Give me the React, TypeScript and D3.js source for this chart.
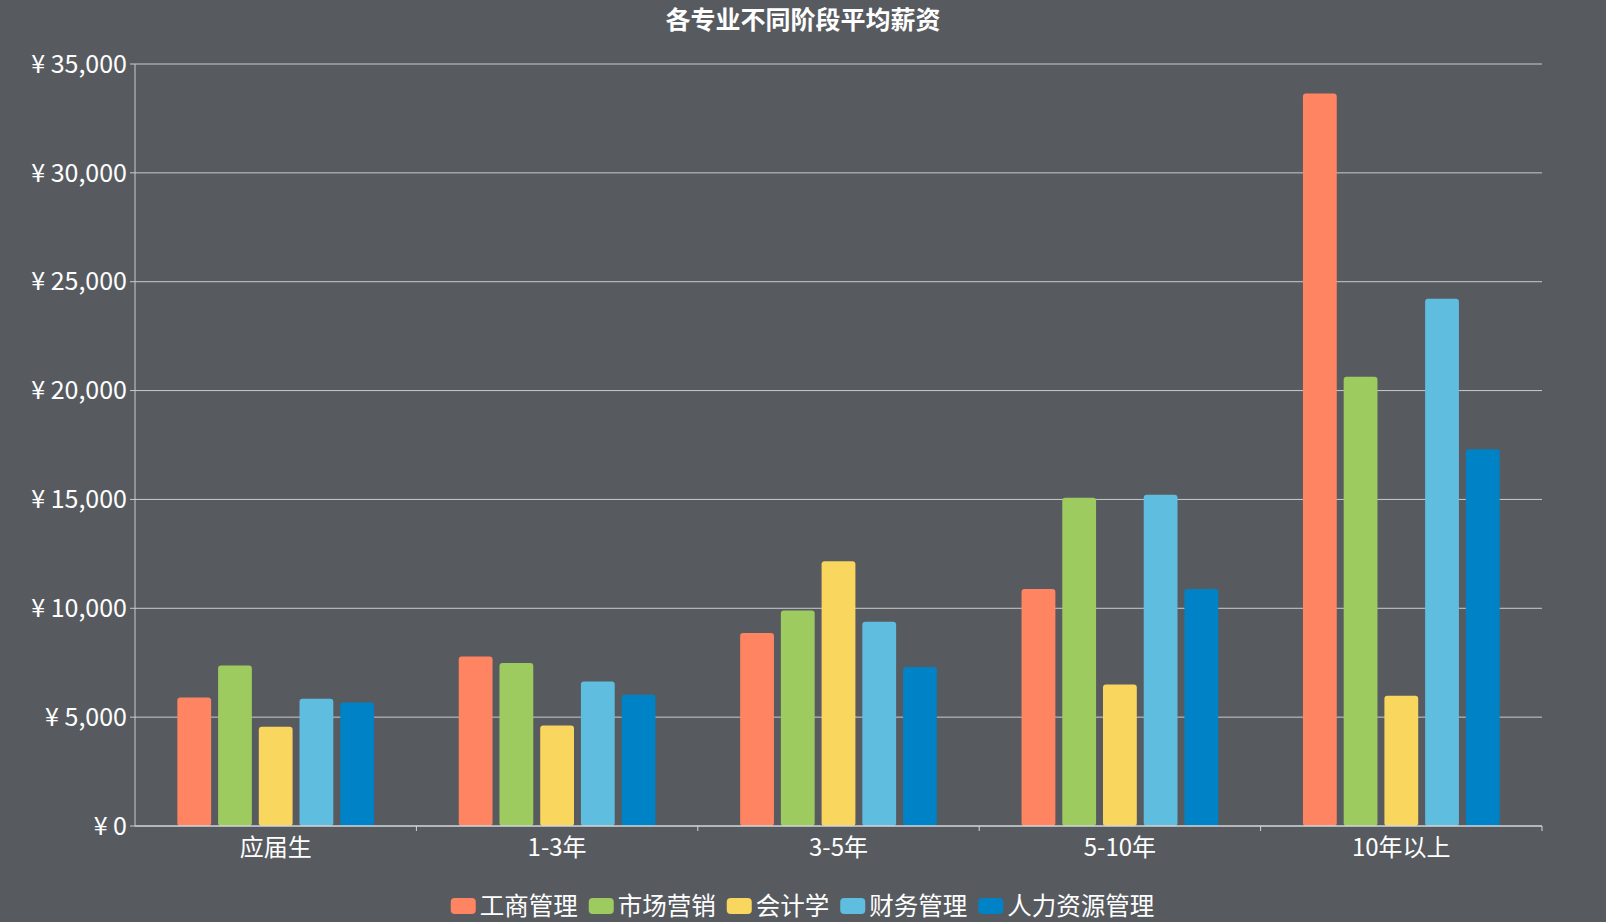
import React, { useEffect } from 'react';
import * as d3 from 'd3';

const categories = ['应届生', '1-3年', '3-5年', '5-10年', '10年以上'];
const seriesNames = ['工商管理', '市场营销', '会计学', '财务管理', '人力资源管理'];
const colors = ['#ff8562', '#9dcb5f', '#f9d65e', '#5fbde0', '#0082c6'];

// one array per major, values follow categories
const business = [5900, 7780, 8860, 10890, 33640];
const marketing = [7370, 7490, 9900, 15080, 20640];
const accounting = [4560, 4620, 12160, 6500, 5980];
const finance = [5850, 6640, 9380, 15220, 24220];
const hr = [5670, 6030, 7300, 10890, 17300];
const seriesValues = [business, marketing, accounting, finance, hr];

const yTicks = [0, 5000, 10000, 15000, 20000, 25000, 30000, 35000];

const W = 1606;
const H = 922;
const FONT = '"Noto Sans CJK SC", "Noto Sans", sans-serif';

export default function App() {
  useEffect(() => {
    document.body.style.margin = '0';
  }, []);

  const margin = { top: 64, right: 64, bottom: 96, left: 135 };
  const x = d3.scaleBand<string>()
    .domain(categories)
    .range([margin.left, W - margin.right]);
  const inner = d3.scaleBand<string>()
    .domain(seriesNames)
    .range([0, x.bandwidth()])
    .paddingInner(0.17)
    .paddingOuter(1.04);
  const y = d3.scaleLinear()
    .domain([0, 35000])
    .range([H - margin.bottom, margin.top]);

  const fmt = d3.format(',');
  const baseY = y(0);

  // legend layout
  const legendFont = 24.5;
  const swW = 25;
  const itemWidths = seriesNames.map(n => swW + 5 + n.length * legendFont + 10);
  const totalW = d3.sum(itemWidths) - 10;
  let cursor = (W - totalW) / 2;
  const legendX = itemWidths.map(w => {
    const v = cursor;
    cursor += w;
    return v;
  });

  return (
    <svg width={W} height={H} style={{ display: 'block', background: '#575b60', fontFamily: FONT }}>
      <rect x={0} y={0} width={W} height={H} fill="#575b60" />
      <text x={W / 2} y={20} dy="0.35em" textAnchor="middle" fill="#fff" fontSize={25} fontWeight="bold">
        各专业不同阶段平均薪资
      </text>

      {/* grid + y axis */}
      {yTicks.map(t => (
        <g key={t}>
          {t > 0 && (
            <line x1={margin.left} x2={W - margin.right} y1={y(t)} y2={y(t)} stroke="#c9cbcd" strokeWidth={1} />
          )}
          <line x1={margin.left - 5} x2={margin.left} y1={y(t)} y2={y(t)} stroke="#c9cbcd" strokeWidth={1} />
          <text x={margin.left - 8} y={y(t)} dy="0.35em" textAnchor="end" fill="#fff" fontSize={25}>
            {'¥ ' + fmt(t)}
          </text>
        </g>
      ))}
      <line x1={margin.left} x2={margin.left} y1={margin.top} y2={baseY} stroke="#c9cbcd" strokeWidth={1} />

      {/* bars */}
      {categories.map((c, ci) => (
        <g key={c} transform={`translate(${x(c)},0)`}>
          {seriesNames.map((s, si) => {
            const v = seriesValues[si][ci];
            return (
              <rect
                key={s}
                x={inner(s)}
                y={y(v)}
                width={inner.bandwidth()}
                height={baseY - y(v)}
                rx={3}
                fill={colors[si]}
              />
            );
          })}
        </g>
      ))}

      {/* x axis */}
      <line x1={margin.left} x2={W - margin.right} y1={baseY} y2={baseY} stroke="#d5d7d9" strokeWidth={1.5} />
      {categories.map(c => (
        <g key={c}>
          <line
            x1={(x(c) as number) + x.bandwidth()}
            x2={(x(c) as number) + x.bandwidth()}
            y1={baseY}
            y2={baseY + 5}
            stroke="#d5d7d9"
          />
          <text
            x={(x(c) as number) + x.bandwidth() / 2}
            y={baseY + 22}
            dy="0.35em"
            textAnchor="middle"
            fill="#fff"
            fontSize={24}
          >
            {c}
          </text>
        </g>
      ))}

      {/* legend */}
      {seriesNames.map((s, i) => (
        <g key={s} transform={`translate(${legendX[i]},906)`}>
          <rect x={0} y={-8} width={swW} height={16} rx={4} fill={colors[i]} />
          <text x={swW + 4} y={0} dy="0.35em" fill="#fff" fontSize={legendFont}>
            {s}
          </text>
        </g>
      ))}
    </svg>
  );
}
